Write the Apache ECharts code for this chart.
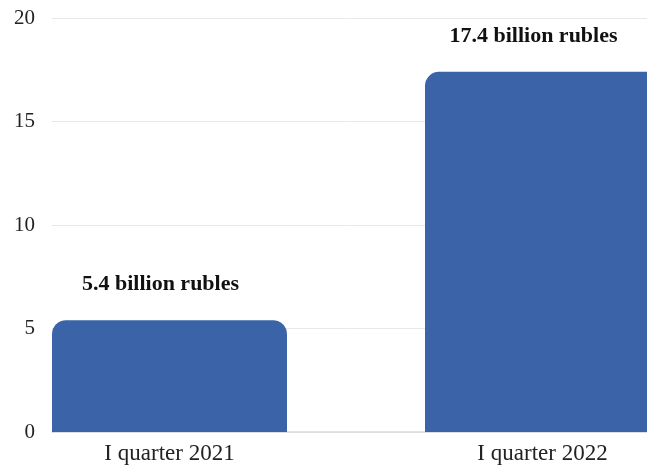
<!DOCTYPE html>
<html>
<head>
<meta charset="utf-8">
<script src="https://cdn.jsdelivr.net/npm/echarts@6/dist/echarts.min.js"></script>
<style>
  html, body { margin: 0; padding: 0; background: #fff; }
  #chart { width: 647px; height: 467px; }
</style>
</head>
<body>
<div id="chart"></div>
<script>
const categories = ['I quarter 2021', 'I quarter 2022']
const values = [5.4, 17.4]
const valueLabels = ['5.4 billion rubles', '17.4 billion rubles']
const yTicks = [0, 5, 10, 15, 20]

const font = '"Liberation Serif", "Times New Roman", serif'
const chart = echarts.init(document.getElementById('chart'), null, { renderer: 'canvas' })

chart.setOption({
  animation: false,
  // grid 0 carries the value axis + gridlines, grid 1 the bars (wider, partly off-canvas)
  grid: [
    { left: 52, right: 0, top: 18, bottom: 35, outerBoundsMode: 'none' },
    { left: -17, right: -82, top: 18, bottom: 35, outerBoundsMode: 'none' }
  ],
  xAxis: [
    {
      gridIndex: 0,
      type: 'category',
      data: categories,
      axisLine: { show: true, lineStyle: { color: '#d9d9d9', width: 1.5 } },
      axisTick: { show: false },
      axisLabel: { show: false }
    },
    {
      gridIndex: 1,
      type: 'category',
      data: categories,
      axisLine: { show: false },
      axisTick: { show: false },
      axisLabel: { fontFamily: font, fontSize: 23, color: '#222', margin: 10 }
    }
  ],
  yAxis: [
    {
      gridIndex: 0,
      type: 'value',
      min: yTicks[0],
      max: yTicks[yTicks.length - 1],
      interval: 5,
      axisLine: { show: false },
      axisTick: { show: false },
      axisLabel: { fontFamily: font, fontSize: 21, color: '#222', margin: 17 },
      splitLine: { lineStyle: { color: '#e8e8e8', width: 1 } }
    },
    {
      gridIndex: 1,
      type: 'value',
      min: yTicks[0],
      max: yTicks[yTicks.length - 1],
      show: false
    }
  ],
  series: [
    {
      type: 'bar',
      xAxisIndex: 1,
      yAxisIndex: 1,
      barWidth: 235,
      itemStyle: { color: '#3a64a7', borderRadius: [14, 14, 0, 0] },
      label: {
        show: true,
        position: 'top',
        distance: 25,
        offset: [-9, 0],
        fontFamily: font,
        fontWeight: 'bold',
        fontSize: 22,
        color: '#111',
        formatter: p => valueLabels[p.dataIndex]
      },
      data: values
    }
  ]
})
</script>
</body>
</html>
